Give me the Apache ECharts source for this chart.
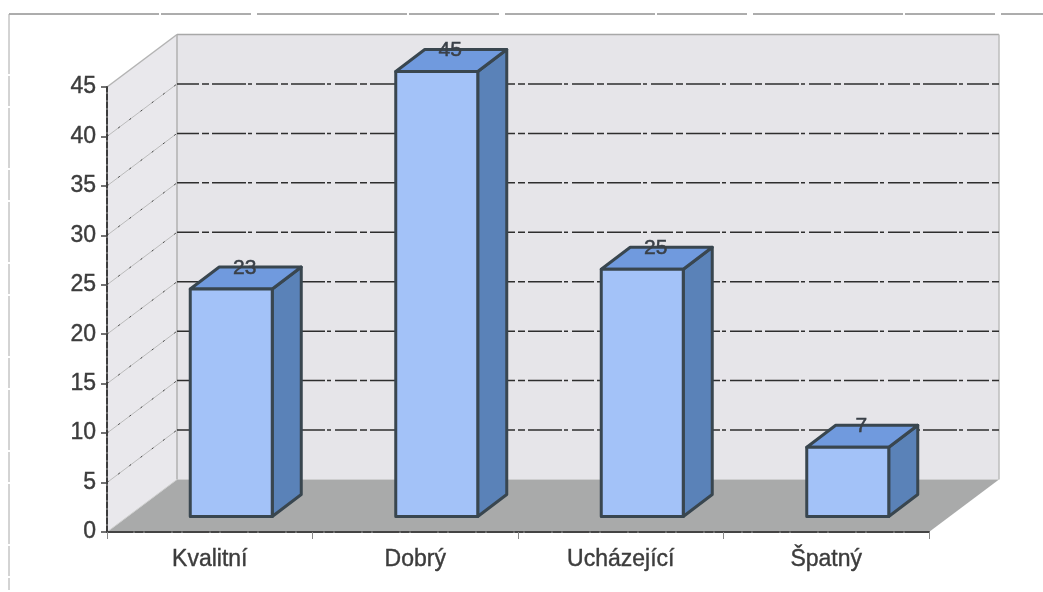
<!DOCTYPE html>
<html>
<head>
<meta charset="utf-8">
<style>html,body{margin:0;padding:0;background:#fff}#c{width:1043px;height:592px}</style>
<script src="https://cdn.jsdelivr.net/npm/echarts@6/dist/echarts.min.js"></script>
</head>
<body>
<div id="c"></div>
<script>
const categories = ['Kvalitní', 'Dobrý', 'Ucházející', 'Špatný'];
const values = [23, 45, 25, 7];
const yTicks = [5, 10, 15, 20, 25, 30, 35, 40, 45];

const WALL_DX = 70, WALL_DY = -52.5;    // depth of the whole box
const BAR_DX = 21.5, BAR_DY = -15.5;    // where the bar's front face sits inside the box
const BAR_W = 82, SIDE_DX = 29, SIDE_DY = -22;
const EDGE = '#39464f';
const FONT = '"Liberation Sans", Arial, sans-serif';

function poly(points, fill, stroke, lw) {
  return { type: 'polygon', shape: { points }, style: { fill, stroke: stroke || 'none', lineWidth: lw || 0, lineJoin: 'round' } };
}
function seg(x1, y1, x2, y2, stroke, lw, dash) {
  return { type: 'line', shape: { x1, y1, x2, y2 }, style: { stroke, lineWidth: lw, lineDash: dash || null, fill: 'none' } };
}

function renderBox(params, api) {
  const band = api.size([1, 0])[0];
  const left = api.coord([0, 0])[0] - band / 2;
  const right = left + band * categories.length;
  const y0 = api.coord([0, 0])[1];
  const yTop = api.coord([0, 45])[1];
  const bx = left + WALL_DX, brx = right + WALL_DX, byt = yTop + WALL_DY, byb = y0 + WALL_DY;
  const c = [
    poly([[left, yTop], [bx, byt], [bx, byb], [left, y0]], '#e9e8ec'),
    poly([[bx, byt], [brx, byt], [brx, byb], [bx, byb]], '#e6e5e9'),
    poly([[left, y0], [bx, byb], [brx, byb], [right, y0]], '#a9aaaa'),
    seg(bx, byt, brx, byt, '#a8a8a8', 1.5),
    seg(left, yTop, bx, byt, '#b4b4b4', 1.5),
    seg(bx, byt, bx, byb, '#b0b0b0', 1.5),
    seg(brx, byt, brx, byb, '#bdbdbd', 1.5),
    seg(left, y0, bx, byb, '#d0d0d0', 1)
  ];
  yTicks.forEach(function (t) {
    const y = api.coord([0, t])[1];
    if (t < 45) {
      c.push(seg(left, y, bx, y + WALL_DY, '#bcbcbc', 1));
      c.push(seg(left, y, bx, y + WALL_DY, '#4a4a4a', 1, [2, 12]));
      c.push(seg(bx, y + WALL_DY, brx, y + WALL_DY, '#2e2e2e', 1.5, [22, 3, 7, 3, 34, 2, 4, 4]));
    }
  });
  return { type: 'group', children: c };
}

function renderBar(params, api) {
  const i = api.value(0), v = api.value(1);
  const base = api.coord([i, 0]), top = api.coord([i, v]);
  const x0 = base[0] + BAR_DX - BAR_W / 2, x1 = x0 + BAR_W;
  const yb = base[1] + BAR_DY, yt = top[1] + BAR_DY;
  return {
    type: 'group',
    children: [
      poly([[x1, yt], [x1 + SIDE_DX, yt + SIDE_DY], [x1 + SIDE_DX, yb + SIDE_DY], [x1, yb]], '#5a82b8', EDGE, 3),
      poly([[x0, yt], [x0 + SIDE_DX, yt + SIDE_DY], [x1 + SIDE_DX, yt + SIDE_DY], [x1, yt]], '#709ade', EDGE, 3),
      poly([[x0, yt], [x1, yt], [x1, yb], [x0, yb]], '#a3c2f8', EDGE, 3),
      {
        type: 'text',
        style: {
          x: (x0 + x1) / 2 + 13.5, y: yt - 21,
          text: String(values[i]),
          fill: '#3a4048', font: '21px ' + FONT,
          stroke: '#3a4048', lineWidth: 0.5,
          align: 'center', verticalAlign: 'middle'
        }
      }
    ]
  };
}

const chart = echarts.init(document.getElementById('c'), null, { renderer: 'canvas' });
chart.setOption({
  animation: false,
  backgroundColor: '#ffffff',
  grid: { left: 107, right: 114, top: 87, bottom: 60, containLabel: false },
  xAxis: {
    type: 'category',
    data: categories,
    boundaryGap: true,
    z: 10,
    axisLine: { lineStyle: { color: '#444', width: 2, type: [26, 2, 8, 2] } },
    axisTick: { show: true, length: 7, alignWithLabel: false, lineStyle: { color: '#888', width: 1 } },
    axisLabel: { color: '#3c3c3c', fontSize: 23, margin: 16, fontFamily: FONT, textBorderColor: '#3c3c3c', textBorderWidth: 0.4 }
  },
  yAxis: {
    type: 'value',
    min: 0, max: 45, interval: 5,
    z: 10,
    splitLine: { show: false },
    axisLine: { show: true, lineStyle: { color: '#3c3c3c', width: 2, type: [6, 2] } },
    axisTick: { show: true, length: 6, lineStyle: { color: '#444', width: 1.5 } },
    axisLabel: { color: '#3c3c3c', fontSize: 23, margin: 11, fontFamily: FONT, textBorderColor: '#3c3c3c', textBorderWidth: 0.4 }
  },
  graphic: [
    { type: 'line', z: 100, shape: { x1: 9, y1: 14, x2: 1043, y2: 14 }, style: { stroke: '#5a5a5a', lineWidth: 1, lineDash: [150, 2, 90, 6] } },
    { type: 'line', z: 100, shape: { x1: 9, y1: 14, x2: 9, y2: 590 }, style: { stroke: '#a8a8a8', lineWidth: 1, lineDash: [60, 2, 30, 2] } }
  ],
  series: [
    {
      type: 'custom', name: 'box', coordinateSystem: 'cartesian2d', clip: false, z: 1, silent: true,
      data: [[0, 0]], renderItem: renderBox
    },
    {
      type: 'custom', name: 'Hodnocení', coordinateSystem: 'cartesian2d', clip: false, z: 3, silent: true,
      data: values.map(function (v, i) { return [i, v]; }), renderItem: renderBar,
      encode: { x: 0, y: 1 }
    }
  ]
});
</script>
</body>
</html>
